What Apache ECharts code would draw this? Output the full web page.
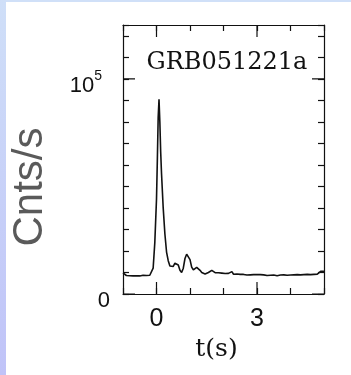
<!DOCTYPE html>
<html><head><meta charset="utf-8">
<script src="https://cdn.jsdelivr.net/npm/echarts@6/dist/echarts.min.js"></script>
<style>
html,body{margin:0;padding:0;background:#fff;overflow:hidden;}
#topband{position:absolute;left:0;top:0;width:351px;height:2px;background:#d0e0f8;}
#leftband{position:absolute;left:0;top:0;width:6px;height:375px;background:linear-gradient(#cfdff8,#c0c3f8);}
#chart{position:absolute;left:0;top:0;width:351px;height:375px;}
</style></head><body>
<div id="topband"></div><div id="leftband"></div><div id="chart"></div>
<script>
const titleText = 'GRB051221a';
const xName = 't(s)';
const yName = 'Cnts/s';
const xMin = -1, xMax = 5;
const yMin = 0, yMax = 125000;
const xMajor = [0, 3];
const yMajor = [0, 100000];
const times = [
 -1.00,-0.95,-0.90,-0.85,-0.80,-0.75,-0.70,-0.65,-0.60,-0.55,-0.50,-0.45,-0.40,-0.35,-0.30,-0.25,-0.20,-0.15,-0.10,-0.05,
 0.00,0.025,0.05,0.075,0.10,0.125,0.15,0.20,0.25,0.30,0.35,0.40,0.45,0.50,0.55,0.60,0.65,0.70,0.75,0.80,0.85,0.90,0.95,
 1.00,1.05,1.10,1.15,1.20,1.25,1.30,1.35,1.40,1.45,1.50,1.55,1.60,1.65,1.70,1.75,1.80,1.85,1.90,1.95,
 2.00,2.05,2.10,2.15,2.20,2.25,2.30,2.35,2.40,2.45,2.50,2.55,2.60,2.65,2.70,2.75,2.80,2.85,2.90,2.95,
 3.00,3.05,3.10,3.15,3.20,3.25,3.30,3.35,3.40,3.45,3.50,3.55,3.60,3.65,3.70,3.75,3.80,3.85,3.90,3.95,
 4.00,4.05,4.10,4.15,4.20,4.25,4.30,4.35,4.40,4.45,4.50,4.55,4.60,4.65,4.70,4.75,4.80,4.85,4.90,4.95,5.00
];
const counts = [
 9800,9000,8600,8700,8500,8600,8400,8700,8500,8600,8400,8500,8700,8400,8600,8500,8700,9200,12000,24000,
 44000,62000,82000,90500,80000,66000,56000,40000,28000,19500,15500,13000,12500,12800,14300,15000,13500,11000,10000,12000,16500,18500,18800,
 16000,12500,11200,11500,12400,12200,11000,10000,9600,9300,9400,10000,10800,11000,10300,9900,9700,9900,9500,9700,
 9300,9500,9400,9600,9800,10400,9200,9100,9300,9000,9100,8900,9100,9000,8800,9100,8900,9100,9000,8800,
 9000,8900,9000,8700,8900,8800,8600,8900,8700,8500,8800,8600,8500,8700,8800,8500,8900,9000,8700,9100,
 8800,9200,8900,8700,9000,9300,8900,9200,9000,8800,9100,9300,9000,9400,9100,9300,9200,9800,10500,10200,10600
];

const black = '#111';
const grid = {left: 123, right: 27, top: 25, bottom: 81};
const plotW = 351 - grid.left - grid.right, plotH = 375 - grid.top - grid.bottom;
const majorLenPx = 12;
const xTickLen = (xMax - xMin) * majorLenPx / plotW;
const yTickLen = (yMax - yMin) * majorLenPx / plotH;

function xAx(pos, opts) {
  return Object.assign({
    type: 'value', position: pos, min: xMin, max: xMax, interval: 1,
    axisLine: {show: true, onZero: false, lineStyle: {color: black, width: 1.2}},
    axisTick: {show: true, inside: true, length: 6, lineStyle: {color: black, width: 1.2}},
    splitLine: {show: false}, axisLabel: {show: false}
  }, opts);
}
function yAx(pos, opts) {
  return Object.assign({
    type: 'value', position: pos, min: yMin, max: yMax, interval: 10000,
    axisLine: {show: true, onZero: false, lineStyle: {color: black, width: 1.2}},
    axisTick: {show: true, inside: true, length: 6, lineStyle: {color: black, width: 1.2}},
    splitLine: {show: false}, axisLabel: {show: false}
  }, opts);
}

// long major ticks on all four sides, as short segments in data space separated by gaps
const majorTickPts = [];
xMajor.forEach(v => {
  majorTickPts.push([v, yMin], [v, yMin + yTickLen], ['-', '-']);
  majorTickPts.push([v, yMax], [v, yMax - yTickLen], ['-', '-']);
});
yMajor.forEach(v => {
  majorTickPts.push([xMin, v], [xMin + xTickLen, v], ['-', '-']);
  majorTickPts.push([xMax, v], [xMax - xTickLen, v], ['-', '-']);
});

const chart = echarts.init(document.getElementById('chart'), null, {renderer: 'canvas'});
chart.setOption({
  backgroundColor: 'transparent',
  animation: false,
  title: {
    text: titleText, left: 222, top: 46, textAlign: 'center',
    textStyle: {fontFamily: 'DejaVu Serif', fontSize: 24, fontWeight: 'normal', color: '#111'}
  },
  grid: grid,
  xAxis: [
    xAx('bottom', {
      axisLabel: {show: true, customValues: xMajor, margin: 13, color: '#111', fontFamily: 'Liberation Sans', fontSize: 25},
      name: xName, nameLocation: 'middle', nameGap: 42,
      nameTextStyle: {fontFamily: 'DejaVu Serif', fontSize: 25, color: '#111', padding: [0, 14, 0, 0]}}),
    xAx('top', {})
  ],
  yAxis: [
    yAx('left', {
      axisLabel: {show: true, customValues: yMajor, margin: 13, color: '#111',
        formatter: v => v === yMajor[1] ? '{b|10}{s|5}' : '{b|0}',
        rich: {
          b: {fontFamily: 'Liberation Sans', fontSize: 22, color: '#111', padding: [14, 0, 0, 0]},
          s: {fontFamily: 'Liberation Sans', fontSize: 14, color: '#111', padding: [0, 8, 6, 0]}
        }},
      name: yName, nameLocation: 'middle', nameGap: 72,
      nameTextStyle: {fontFamily: 'Liberation Sans', fontSize: 42, color: '#5a5a5a', padding: [0, 55, 0, 0]}}),
    yAx('right', {})
  ],
  series: [{
    type: 'line', xAxisIndex: 0, yAxisIndex: 0, showSymbol: false, symbol: 'none',
    lineStyle: {color: black, width: 1.6},
    data: times.map((t, i) => [t, counts[i]])
  }, {
    type: 'line', xAxisIndex: 0, yAxisIndex: 0, showSymbol: false, symbol: 'none',
    silent: true, connectNulls: false, clip: false, z: 5,
    lineStyle: {color: black, width: 1.2},
    data: majorTickPts
  }]
});
</script>
</body></html>
